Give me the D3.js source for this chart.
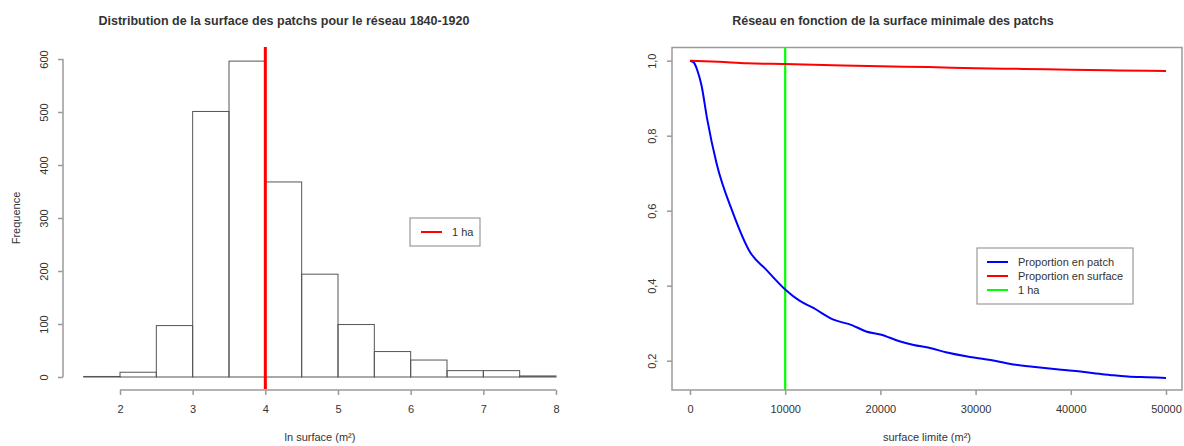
<!DOCTYPE html>
<html>
<head>
<meta charset="utf-8">
<script src="https://cdn.jsdelivr.net/npm/d3@7"></script>
<style>
  body { margin: 0; background: #fff; }
  text { font-family: "Liberation Sans", Arial, sans-serif; fill: #333; }
</style>
</head>
<body>
<div id="chart"></div>
<script>
// Histogramme : bornes des classes (ln surface) et effectifs
var binEdges = [1.5, 2, 2.5, 3, 3.5, 4, 4.5, 5, 5.5, 6, 6.5, 7, 7.5, 8]
var counts = [1, 9, 97, 501, 596, 368, 194, 99, 48, 32, 12, 12, 2]
var histXTicks = [2, 3, 4, 5, 6, 7, 8]
var histYTicks = [0, 100, 200, 300, 400, 500, 600]

// Courbes : seuil de surface minimale (m²)
var seuilPatch = [0, 400, 800, 1200, 1800, 2800, 4500, 6300, 8000, 10000, 11500, 13000, 15000, 17000, 18500, 20000,
  22000, 23500, 25000, 27000, 29000, 30500, 32000, 34000, 36000, 37500, 39000, 41000, 43000, 44500, 46000, 48000, 50000]
var propPatch = [1.0, 0.995, 0.972, 0.935, 0.845, 0.725, 0.595, 0.49, 0.443, 0.39, 0.36, 0.34, 0.31, 0.295, 0.278, 0.27,
  0.252, 0.242, 0.235, 0.222, 0.212, 0.206, 0.2, 0.19, 0.184, 0.18, 0.176, 0.171, 0.165, 0.161, 0.158, 0.156, 0.154]
var seuilSurface = [0, 3000, 6000, 10000, 15000, 20000, 25000, 30000, 35000, 40000, 45000, 50000]
var propSurface = [1.0, 0.997, 0.993, 0.991, 0.988, 0.985, 0.983, 0.980, 0.978, 0.976, 0.974, 0.9725]
var lineXTicks = [0, 10000, 20000, 30000, 40000, 50000]
var lineYTicks = [0.2, 0.4, 0.6, 0.8, 1.0]

var width = 1184
var height = 446
var axisColor = "#9a9a9a"

var svg = d3.select("#chart").append("svg")
  .attr("width", width)
  .attr("height", height)

// ---------- Histogramme ----------
var hx = d3.scaleLinear().domain([2, 8]).range([120, 556])
var hy = d3.scaleLinear().domain([0, 600]).range([377, 59])

var bins = counts.map(function(c, i){ return {x0: binEdges[i], x1: binEdges[i+1], n: c} })

svg.append("g")
  .selectAll("rect")
  .data(bins)
  .enter()
  .append("rect")
    .attr("x", function(d){ return hx(d.x0) })
    .attr("y", function(d){ return hy(d.n) })
    .attr("width", function(d){ return hx(d.x1) - hx(d.x0) })
    .attr("height", function(d){ return hy(0) - hy(d.n) })
    .attr("fill", "none")
    .attr("stroke", "#555")
    .attr("stroke-width", 1)

// axe x
var hxAxis = svg.append("g")
  .attr("transform", "translate(0,390)")
  .call(d3.axisBottom(hx).tickValues(histXTicks).tickSize(5).tickPadding(10).tickFormat(d3.format("d")))
hxAxis.select(".domain").attr("stroke", axisColor).attr("stroke-width", 1.5).attr("d", "M" + hx(2) + ",0H" + hx(8))
hxAxis.selectAll(".tick line").attr("stroke", axisColor).attr("stroke-width", 1.5)
hxAxis.selectAll("text").style("font-size", "11px").style("font-family", "Liberation Sans, Arial, sans-serif").attr("fill", "#333")

// axe y
var hyAxis = svg.append("g")
  .attr("transform", "translate(63,0)")
  .call(d3.axisLeft(hy).tickValues(histYTicks).tickSize(5).tickFormat(d3.format("d")))
hyAxis.select(".domain").attr("stroke", axisColor).attr("stroke-width", 1.5).attr("d", "M0," + hy(0) + "V" + hy(600))
hyAxis.selectAll(".tick line").attr("stroke", axisColor).attr("stroke-width", 1.5)
hyAxis.selectAll("text")
  .attr("x", 0).attr("dy", null)
  .attr("transform", "translate(-19,0) rotate(-90)")
  .attr("text-anchor", "middle")
  .attr("dominant-baseline", "central")
  .style("font-size", "11px").style("font-family", "Liberation Sans, Arial, sans-serif").attr("fill", "#333")

// ligne 1 ha (ln 1 ha ~ 4 en log10)
svg.append("line")
  .attr("x1", hx(4)).attr("x2", hx(4))
  .attr("y1", 47).attr("y2", 389)
  .attr("stroke", "#ff0000").attr("stroke-width", 3)

// titres
svg.append("text")
  .attr("x", 284).attr("y", 25)
  .attr("text-anchor", "middle")
  .style("font-size", "12.5px").style("font-weight", "bold")
  .attr("fill", "#222")
  .text("Distribution de la surface des patchs pour le réseau 1840-1920")

svg.append("text")
  .attr("x", 320).attr("y", 441)
  .attr("text-anchor", "middle")
  .style("font-size", "11px")
  .text("ln surface (m²)")

svg.append("text")
  .attr("transform", "translate(20,218) rotate(-90)")
  .attr("text-anchor", "middle")
  .style("font-size", "11px")
  .text("Frequence")

// légende gauche
var lg = svg.append("g")
lg.append("rect").attr("x", 410).attr("y", 218).attr("width", 70).attr("height", 28)
  .attr("fill", "#fff").attr("stroke", axisColor).attr("stroke-width", 1.2)
lg.append("line").attr("x1", 421).attr("x2", 442).attr("y1", 232).attr("y2", 232)
  .attr("stroke", "#ff0000").attr("stroke-width", 2)
lg.append("text").attr("x", 452).attr("y", 236).style("font-size", "11px").text("1 ha")

// ---------- Courbes ----------
var lx = d3.scaleLinear().domain([0, 50000]).range([690, 1166])
var ly = d3.scaleLinear().domain([0.2, 1.0]).range([360.7, 60.7])

// cadre
svg.append("rect")
  .attr("x", 672).attr("y", 47.5)
  .attr("width", 510).attr("height", 342.5)
  .attr("fill", "none").attr("stroke", axisColor).attr("stroke-width", 1.5)

var lxAxis = svg.append("g")
  .attr("transform", "translate(0,390)")
  .call(d3.axisBottom(lx).tickValues(lineXTicks).tickSize(5).tickPadding(10).tickFormat(d3.format("d")))
lxAxis.select(".domain").remove()
lxAxis.selectAll(".tick line").attr("stroke", axisColor).attr("stroke-width", 1.5)
lxAxis.selectAll("text").style("font-size", "11px").style("font-family", "Liberation Sans, Arial, sans-serif").attr("fill", "#333")

var frComma = function(d){ return d3.format(".1f")(d).replace(".", ",") }
var lyAxis = svg.append("g")
  .attr("transform", "translate(672,0)")
  .call(d3.axisLeft(ly).tickValues(lineYTicks).tickSize(5).tickFormat(frComma))
lyAxis.select(".domain").remove()
lyAxis.selectAll(".tick line").attr("stroke", axisColor).attr("stroke-width", 1.5)
lyAxis.selectAll("text")
  .attr("x", 0).attr("dy", null)
  .attr("transform", "translate(-20,0) rotate(-90)")
  .attr("text-anchor", "middle")
  .attr("dominant-baseline", "central")
  .style("font-size", "11px").style("font-family", "Liberation Sans, Arial, sans-serif").attr("fill", "#333")

var patchData = seuilPatch.map(function(s, i){ return [s, propPatch[i]] })
var surfData = seuilSurface.map(function(s, i){ return [s, propSurface[i]] })

var line = d3.line()
  .x(function(d){ return lx(d[0]) })
  .y(function(d){ return ly(d[1]) })
  .curve(d3.curveMonotoneX)

// ligne 1 ha
svg.append("line")
  .attr("x1", lx(10000)).attr("x2", lx(10000))
  .attr("y1", 47.5).attr("y2", 390)
  .attr("stroke", "#00ff00").attr("stroke-width", 2.2)

svg.append("path").datum(patchData)
  .attr("d", line).attr("fill", "none")
  .attr("stroke", "#0000ff").attr("stroke-width", 2)

svg.append("path").datum(surfData)
  .attr("d", line).attr("fill", "none")
  .attr("stroke", "#ff0000").attr("stroke-width", 2)

svg.append("text")
  .attr("x", 893).attr("y", 25)
  .attr("text-anchor", "middle")
  .style("font-size", "12.5px").style("font-weight", "bold")
  .attr("fill", "#222")
  .text("Réseau en fonction de la surface minimale des patchs")

svg.append("text")
  .attr("x", 927).attr("y", 441)
  .attr("text-anchor", "middle")
  .style("font-size", "11px")
  .text("surface limite (m²)")

// légende droite
var legendItems = ["Proportion en patch", "Proportion en surface", "1 ha"]
var legendColors = ["#0000ff", "#ff0000", "#00ff00"]
var rg = svg.append("g")
rg.append("rect").attr("x", 977).attr("y", 248).attr("width", 156).attr("height", 56)
  .attr("fill", "#fff").attr("stroke", axisColor).attr("stroke-width", 1.2)
rg.selectAll("line.leg")
  .data(legendItems)
  .enter()
  .append("line")
    .attr("x1", 987).attr("x2", 1008)
    .attr("y1", function(d, i){ return 262 + i * 14 })
    .attr("y2", function(d, i){ return 262 + i * 14 })
    .attr("stroke", function(d, i){ return legendColors[i] })
    .attr("stroke-width", 2)
rg.selectAll("text.leg")
  .data(legendItems)
  .enter()
  .append("text")
    .attr("x", 1018)
    .attr("y", function(d, i){ return 266 + i * 14 })
    .style("font-size", "11px")
    .text(function(d){ return d })
</script>
</body>
</html>
